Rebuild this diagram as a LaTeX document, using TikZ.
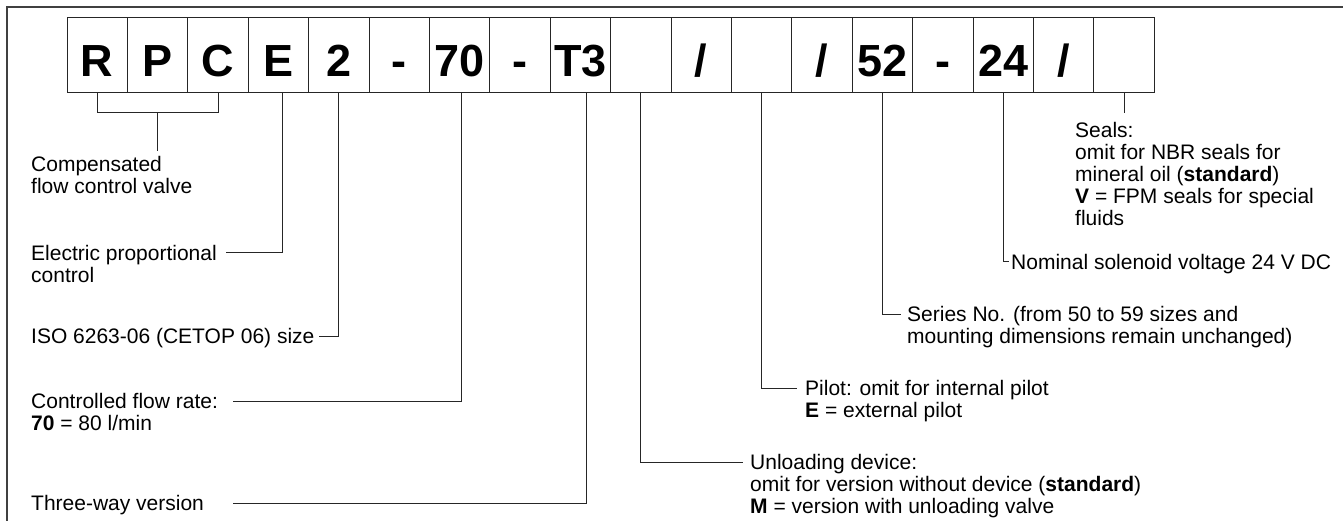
\documentclass[tikz,border=0pt]{standalone}
\usepackage{fontspec}
\setmainfont{Liberation Sans}
\usetikzlibrary{positioning,calc}

\begin{document}
\begin{tikzpicture}[
        x=1pt, y=-1pt,
        node distance=0pt,
        cell/.style={rectangle, draw=black!85, line width=1pt, outer sep=0pt, inner sep=0pt, minimum width=60.4pt, minimum height=75pt, text height=43pt, text depth=0pt, font=\fontsize{45}{45}\selectfont\bfseries},
        lbl/.style={inner sep=0pt, align=left, anchor=base west, font=\fontsize{21}{22}\selectfont},
        lead/.style={draw=black!85, line width=1pt}
    ]
        \useasboundingbox (0,0) rectangle (1343,521);
        % frame, only top and left edge visible
        \draw[black!75, line width=1.4pt] (1343,7) -- (7,7) -- (7,521);

        % ordering code boxes
        \node[cell, anchor=north west] (b1) at (67,18) {R};
        \node[cell, right=of b1] (b2) {P};
        \node[cell, right=of b2] (b3) {C};
        \node[cell, right=of b3] (b4) {E};
        \node[cell, right=of b4] (b5) {2};
        \node[cell, right=of b5] (b6) {-};
        \node[cell, right=of b6] (b7) {70};
        \node[cell, right=of b7] (b8) {-};
        \node[cell, right=of b8] (b9) {T3};
        \node[cell, right=of b9] (b10) {};
        \node[cell, right=of b10] (b11) {/};
        \node[cell, right=of b11] (b12) {};
        \node[cell, right=of b12] (b13) {/};
        \node[cell, right=of b13] (b14) {52};
        \node[cell, right=of b14] (b15) {-};
        \node[cell, right=of b15] (b16) {24};
        \node[cell, right=of b16] (b17) {/};
        \node[cell, right=of b17] (b18) {};

        % explanations (base = last line)
        \node[lbl] (comp) at (31,193.5) {Compensated\\flow control valve};
        \node[lbl] (elec) at (31,282.5) {Electric proportional\\control};
        \node[lbl] (iso) at (31,343.5) {ISO 6263-06 (CETOP 06) size};
        \node[lbl] (flow) at (31,430.5) {Controlled flow rate:\\\textbf{70} = 80 l/min};
        \node[lbl] (three) at (31,510.5) {Three-way version};
        \node[lbl] (unload) at (750,513.5) {Unloading device:\\omit for version without device (\textbf{standard})\\\textbf{M} = version with unloading valve};
        \node[lbl] (pilot) at (805,417.5) {Pilot: omit for internal pilot\\\textbf{E} = external pilot};
        \node[lbl] (series) at (907,343.5) {Series No. (from 50 to 59 sizes and\\mounting dimensions remain unchanged)};
        \node[lbl] (volt) at (1011,269.5) {Nominal solenoid voltage 24 V DC};
        \node[lbl] (seals) at (1075,225.5) {Seals:\\omit for NBR seals for\\mineral oil (\textbf{standard})\\\textbf{V} = FPM seals for special\\fluids};

        \coordinate (rpc) at ($(b1.south)!0.5!(b3.south)+(0,20)$);
        \coordinate (sealtip) at ([yshift=-20pt]b18.south);

        % leader lines
        \draw[lead] (b1.south) -- ++(0,20) -| (b3.south);
        \draw[lead] (rpc) -- ([yshift=5pt]rpc |- comp.north);
        \draw[lead] ([xshift=4pt]b4.south) |- ([xshift=9pt,yshift=29.5pt]elec.base east);
        \draw[lead] (b5.south) |- ([xshift=4pt,yshift=7.5pt]iso.base east);
        \draw[lead] ([xshift=2pt]b7.south) |- ([xshift=15pt,yshift=29.5pt]flow.base east);
        \draw[lead] ([xshift=6pt]b9.south) |- ([xshift=29pt,yshift=7.5pt]three.base east);
        \draw[lead] (b10.south) |- ([xshift=-7pt,yshift=51.5pt]unload.base west);
        \draw[lead] (b12.south) |- ([xshift=-8pt,yshift=29.5pt]pilot.base west);
        \draw[lead] (b14.south) |- ([xshift=-6pt,yshift=29.5pt]series.base west);
        \draw[lead] (b16.south) |- ([xshift=-2pt,yshift=7.5pt]volt.base west);
        \draw[lead] (b18.south) -- (sealtip);
    \end{tikzpicture}
\end{document}
